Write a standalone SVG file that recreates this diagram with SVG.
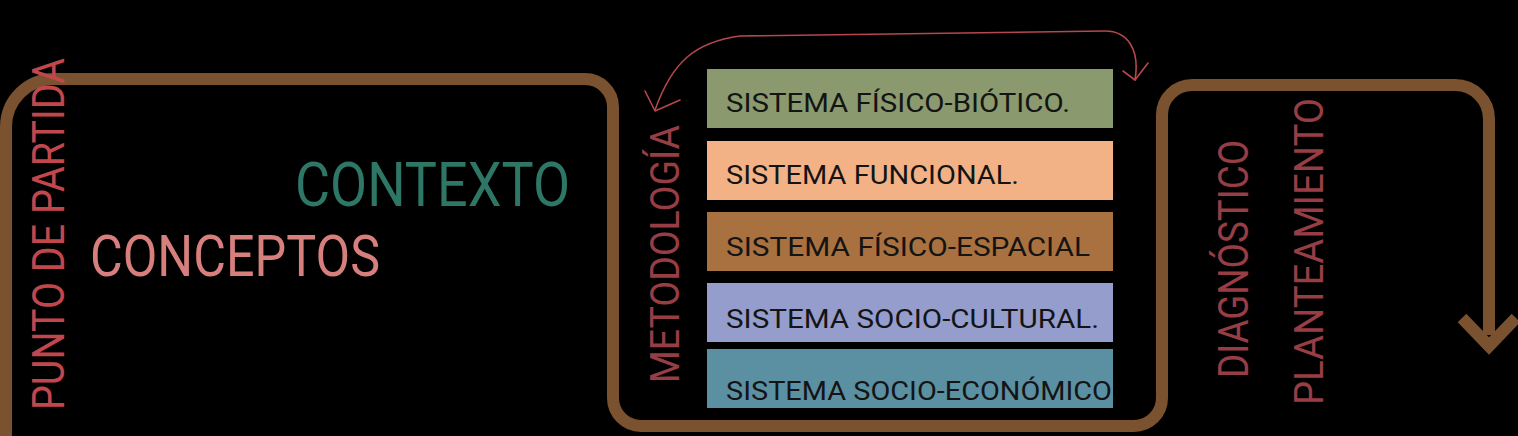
<svg xmlns="http://www.w3.org/2000/svg" width="1518" height="436" viewBox="0 0 1518 436">
<style>
  .flow { fill: none; stroke: #7a5230; stroke-width: 12; }
  .thin { fill: none; stroke: #b5474d; stroke-width: 1.6; stroke-linecap: round; stroke-linejoin: round; }
  .sys { font-family: Roboto, "Liberation Sans", sans-serif; font-size: 25px; fill: #141414; }
  .big { font-family: Roboto, "Liberation Sans", sans-serif; }
  .vert { font-family: Roboto, "Liberation Sans", sans-serif; fill: #973d44; }
</style>
<rect x="0" y="0" width="1518" height="436" fill="#000000"/>
<g id="connectors">
  <path class="flow" d="M 6 436 L 6 127 A 48 48 0 0 1 54 79 L 585 79 A 28 28 0 0 1 613 107 L 613 398 A 28 28 0 0 0 641 426 L 1134 426 A 28 28 0 0 0 1162 398 L 1162 115 A 30 30 0 0 1 1192 85 L 1455 85 A 34 34 0 0 1 1489 119 L 1489 335"/>
  <path class="flow" stroke-linejoin="miter" d="M 1462 318 L 1489 346 L 1516 318"/>
  <path class="thin" d="M 655 110 C 672 62, 695 42, 740 36 L 1105 31 C 1128 31, 1140 50, 1135 80"/>
  <path class="thin" d="M 645 91 L 655 111 L 680 100"/>
  <path class="thin" d="M 1123 71 L 1135 80 L 1148 63"/>
</g>
<g id="punto-de-partida">
  <text class="big" transform="translate(64,410) rotate(-90)" font-size="44" fill="#c2474d" textLength="352" lengthAdjust="spacingAndGlyphs">PUNTO DE PARTIDA</text>
</g>
<g id="contexto">
  <text class="big" x="295" y="206" font-size="61" fill="#2e7666" textLength="275" lengthAdjust="spacingAndGlyphs">CONTEXTO</text>
</g>
<g id="conceptos">
  <text class="big" x="90" y="276" font-size="57" fill="#d67f7c" textLength="290" lengthAdjust="spacingAndGlyphs">CONCEPTOS</text>
</g>
<g id="metodologia">
  <text class="vert" transform="translate(679,383) rotate(-90)" font-size="41" textLength="258" lengthAdjust="spacingAndGlyphs">METODOLOGÍA</text>
</g>
<g id="sistema-fisico-biotico">
  <rect x="707" y="69" width="406" height="59" fill="#8a9a6e"/>
  <text class="sys" x="726" y="112" textLength="344" lengthAdjust="spacingAndGlyphs">SISTEMA FÍSICO-BIÓTICO.</text>
</g>
<g id="sistema-funcional">
  <rect x="707" y="141" width="406" height="59" fill="#f3b286"/>
  <text class="sys" x="726" y="184" textLength="293" lengthAdjust="spacingAndGlyphs">SISTEMA FUNCIONAL.</text>
</g>
<g id="sistema-fisico-espacial">
  <rect x="707" y="212" width="406" height="59" fill="#a9713f"/>
  <text class="sys" x="726" y="256" textLength="364" lengthAdjust="spacingAndGlyphs">SISTEMA FÍSICO-ESPACIAL</text>
</g>
<g id="sistema-socio-cultural">
  <rect x="707" y="283" width="406" height="59" fill="#959dcc"/>
  <text class="sys" x="726" y="328" textLength="373" lengthAdjust="spacingAndGlyphs">SISTEMA SOCIO-CULTURAL.</text>
</g>
<g id="sistema-socio-economico">
  <rect x="707" y="349" width="406" height="59" fill="#5b90a2"/>
  <text class="sys" x="726" y="400" textLength="386" lengthAdjust="spacingAndGlyphs">SISTEMA SOCIO-ECONÓMICO</text>
</g>
<g id="diagnostico">
  <text class="vert" transform="translate(1248,378) rotate(-90)" font-size="42" textLength="238" lengthAdjust="spacingAndGlyphs">DIAGNÓSTICO</text>
</g>
<g id="planteamiento">
  <text class="vert" transform="translate(1323,405) rotate(-90)" font-size="40" textLength="307" lengthAdjust="spacingAndGlyphs">PLANTEAMIENTO</text>
</g>
</svg>
